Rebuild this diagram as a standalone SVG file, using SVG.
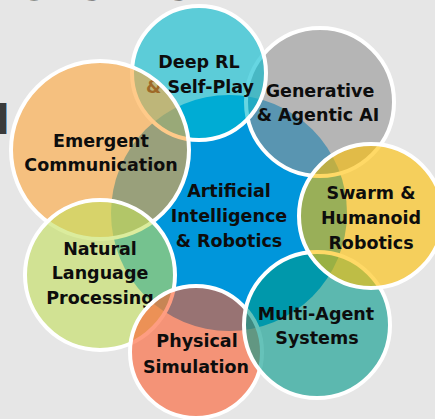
<svg xmlns="http://www.w3.org/2000/svg" width="435" height="419" viewBox="0 0 435 419">
  <style>
    .c { stroke: #ffffff; stroke-width: 4; fill-opacity: 0.6; }
    .t { font-family: "DejaVu Sans", Verdana, sans-serif; font-weight: bold; font-size: 17.5px; fill: #0d0d0d; text-anchor: middle; }
    .frag { font-family: "DejaVu Sans", Verdana, sans-serif; font-weight: bold; fill: #3a3a3a; }
  </style>
  <rect x="0" y="0" width="435" height="419" fill="#E6E6E6"/>
  <text class="frag" x="17" y="-0.5" font-size="40">Overview</text>
  <text class="frag" x="-4" y="134" font-size="40">l</text>

  <g id="center">
    <circle cx="229" cy="213" r="118" fill="#0096DB"/>
    <text class="t" x="229" y="197">Artificial</text>
    <text class="t" x="229" y="222">Intelligence</text>
    <text class="t" x="229" y="247">&amp; Robotics</text>
  </g>
  <g id="generative">
    <circle class="c" cx="320" cy="102" r="74" fill="#949494"/>
    <text class="t" x="320" y="97">Generative</text>
    <text class="t" x="318" y="121">&amp; Agentic AI</text>
  </g>
  <g id="deeprl">
    <circle class="c" cx="199" cy="73" r="67" fill="#00BBCF"/>
    <text class="t" x="199" y="68">Deep RL</text>
    <text class="t" x="200" y="93">&amp; Self-Play</text>
  </g>
  <g id="emergent">
    <circle class="c" cx="100" cy="150" r="89" fill="#FFA63A"/>
    <text class="t" x="101" y="147">Emergent</text>
    <text class="t" x="101" y="171">Communication</text>
  </g>
  <g id="nlp">
    <circle class="c" cx="100" cy="275" r="75" fill="#C3DF5C"/>
    <text class="t" x="100" y="255">Natural</text>
    <text class="t" x="100" y="279">Language</text>
    <text class="t" x="100" y="304">Processing</text>
  </g>
  <g id="physical">
    <circle class="c" cx="196" cy="352" r="66" fill="#FD5C2D"/>
    <text class="t" x="197" y="347">Physical</text>
    <text class="t" x="196" y="373">Simulation</text>
  </g>
  <g id="multiagent">
    <circle class="c" cx="317" cy="325" r="73" fill="#00998A"/>
    <text class="t" x="316" y="320">Multi-Agent</text>
    <text class="t" x="317" y="344">Systems</text>
  </g>
  <g id="swarm">
    <circle class="c" cx="371" cy="216" r="72" fill="#FFC000"/>
    <text class="t" x="371" y="199">Swarm &amp;</text>
    <text class="t" x="371" y="224">Humanoid</text>
    <text class="t" x="371" y="249">Robotics</text>
  </g>
  <g id="connectors"/>
</svg>
